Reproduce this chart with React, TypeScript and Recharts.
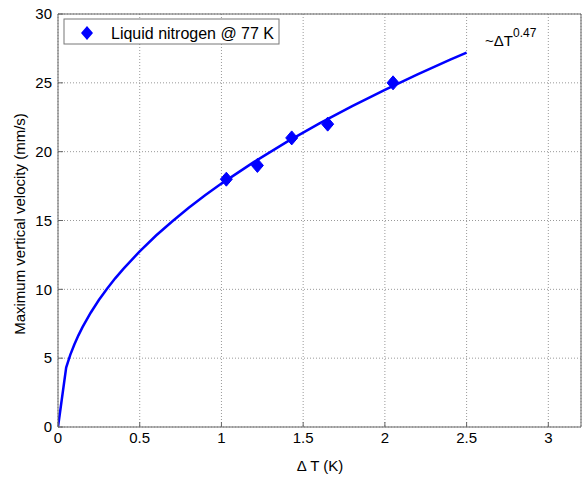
import {
  ComposedChart,
  XAxis,
  YAxis,
  CartesianGrid,
  Line,
  Scatter,
  ReferenceLine,
  Customized,
} from "recharts";

const measuredT = [1.03, 1.22, 1.43, 1.65, 2.05];
const measuredV = [18, 19, 21, 22, 25];

const fitT = [0, 0.05, 0.075, 0.1, 0.125, 0.15, 0.2, 0.25, 0.3, 0.35, 0.4, 0.5, 0.6, 0.7, 0.8, 0.9, 1.0, 1.2, 1.4, 1.6, 1.8, 2.0, 2.2, 2.4, 2.5];
const fitV = [0, 4.32, 5.24, 5.99, 6.66, 7.25, 8.3, 9.22, 10.04, 10.8, 11.49, 12.76, 13.91, 14.95, 15.92, 16.83, 17.68, 19.26, 20.71, 22.05, 23.31, 24.49, 25.61, 26.68, 27.2];

const xTicks = [0, 0.5, 1, 1.5, 2, 2.5, 3];
const yTicks = [0, 5, 10, 15, 20, 25, 30];

const measured = measuredT.map((t, i) => ({ t, v: measuredV[i] }));
const fit = fitT.map((t, i) => ({ t, v: fitV[i] }));

const BLUE = "#0000ff";
const AXIS = "#666";
const FONT = "'Liberation Sans', Arial, sans-serif";

const Diamond = (props: any) => {
  const { cx, cy } = props;
  if (cx == null || cy == null) return null;
  return (
    <polygon
      points={`${cx},${cy - 7} ${cx + 6},${cy} ${cx},${cy + 7} ${cx - 6},${cy}`}
      fill={BLUE}
      stroke={BLUE}
    />
  );
};

const Overlay = () => (
  <g fontFamily={FONT} fill="#000">
    <rect x={64} y={19} width={215} height={25} fill="#fff" stroke="#777" />
    <polygon points="87,26 93,33 87,40 81,33" fill={BLUE} />
    <text x={111} y={38.5} fontSize={16}>Liquid nitrogen @ 77 K</text>
    <text x={485} y={46} fontSize={15}>
      ~ΔT
      <tspan dy={-9} fontSize={12}>0.47</tspan>
    </text>
    <text x={320} y={471} fontSize={15} textAnchor="middle">Δ T (K)</text>
    <text
      x={0}
      y={0}
      fontSize={15}
      textAnchor="middle"
      transform="translate(25,224) rotate(-90)"
    >
      Maximum vertical velocity (mm/s)
    </text>
  </g>
);

export default function App() {
  return (
    <div style={{ position: "absolute", left: 0, top: 0, background: "#fff" }}>
      <ComposedChart
        width={582}
        height={479}
        margin={{ top: 14, right: 1, bottom: 0, left: 0 }}
      >
        <CartesianGrid stroke="#999" strokeDasharray="1 2" />
        <XAxis
          dataKey="t"
          type="number"
          domain={[0, 3.2]}
          ticks={xTicks}
          allowDataOverflow
          height={52}
          stroke={AXIS}
          tickSize={-5}
          tickMargin={10}
          tick={{ fill: "#000", fontSize: 15, fontFamily: FONT }}
        />
        <YAxis
          dataKey="v"
          type="number"
          domain={[0, 30]}
          ticks={yTicks}
          width={58}
          stroke={AXIS}
          tickSize={-5}
          tickMargin={11}
          tick={{ fill: "#000", fontSize: 15, fontFamily: FONT }}
        />
        <ReferenceLine x={3.2} stroke={AXIS} />
        <ReferenceLine y={30} stroke={AXIS} />
        <Line
          data={fit}
          dataKey="v"
          stroke={BLUE}
          strokeWidth={2.5}
          dot={false}
          isAnimationActive={false}
        />
        <Scatter
          data={measured}
          dataKey="v"
          fill={BLUE}
          shape={Diamond}
          isAnimationActive={false}
        />
        <Customized component={Overlay} />
      </ComposedChart>
    </div>
  );
}
